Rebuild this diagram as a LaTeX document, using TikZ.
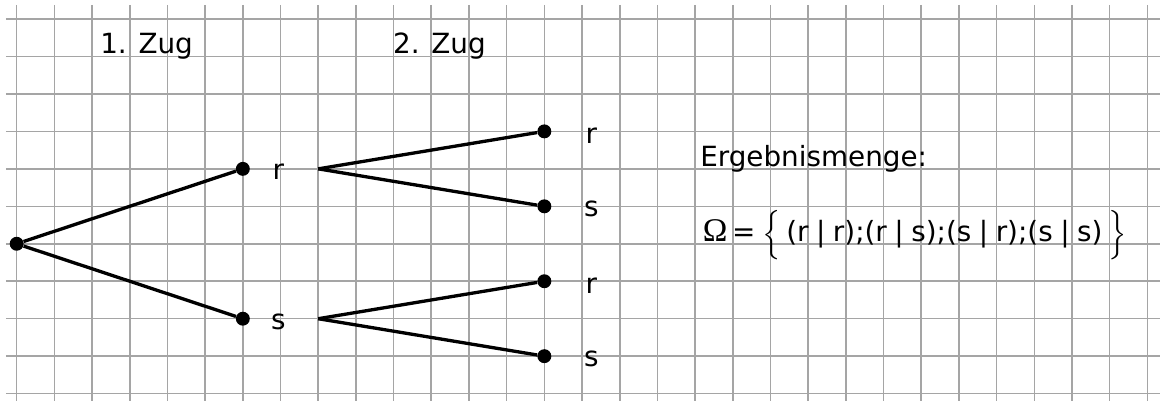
\documentclass[tikz,border=0pt]{standalone}
\usepackage{amsmath}
\usepackage{fontspec}
\setmainfont{DejaVu Sans}
\newfontfamily\omegafont{Liberation Serif}
\usepackage{tikz}
\usetikzlibrary{positioning}
\definecolor{gridgray}{RGB}{165,165,165}
\newcommand{\pairsep}{\hspace{0.27em}|\hspace{0.27em}}

\begin{document}
\begin{tikzpicture}[x=1cm, y=0.994cm,
  every node/.style={font=\fontsize{21}{26}\selectfont, inner sep=0pt},
  pt/.style={circle, fill=black, minimum size=0.37cm, inner sep=0pt},
  lbl/.style={anchor=base},
  txt/.style={anchor=base west},
  branch/.style={line width=2.5pt},
  gridline/.style={draw=gridgray, line width=1.2pt}
]
\useasboundingbox (-0.443,-0.2) rectangle (30.335,10.507);
\foreach \i in {0,...,30}
  \draw[gridline] (\i,10.374) -- (\i,-0.2);
\foreach \j in {0,...,10}
  \draw[gridline] (-0.284,\j) -- (30.335,\j);

\node[txt] (zug1) at (2.21,9.09) {1. Zug};
\node[txt] (zug2) at (9.98,9.09) {2. Zug};

\node[pt] (root) at (0,4) {};
\node[pt] (r) at (6,6) {};
\node[pt] (s) at (6,2) {};
\node[pt] (rr) at (14,7) {};
\node[pt] (rs) at (14,5) {};
\node[pt] (sr) at (14,3) {};
\node[pt] (ss) at (14,1) {};

\node[lbl] (rlab) at (6.94,5.72) {r};
\node[lbl] (slab) at (6.94,1.72) {s};
\node[lbl] (rrlab) at (15.25,6.68) {r};
\node[lbl] (rslab) at (15.25,4.72) {s};
\node[lbl] (srlab) at (15.25,2.68) {r};
\node[lbl] (sslab) at (15.25,0.72) {s};

\coordinate (rfork) at (8,6);
\coordinate (sfork) at (8,2);

\draw[branch] (root) -- (r);
\draw[branch] (root) -- (s);
\foreach \a/\b in {rfork/rr, rfork/rs, sfork/sr, sfork/ss}
  \draw[branch] (\a) -- (\b);

\node[txt] (title) at (18.13,6.07) {Ergebnismenge:};
\node[txt] (omega) at (18.2,4.05)
  {{\omegafont\fontsize{25}{26}\selectfont Ω}\,=\hspace{0.25em}$\Big\{$\hspace{0.2em}(r\pairsep r);(r\pairsep s);(s\pairsep r);(s\pairsep s)\hspace{0.2em}$\Big\}$};
\end{tikzpicture}
\end{document}
